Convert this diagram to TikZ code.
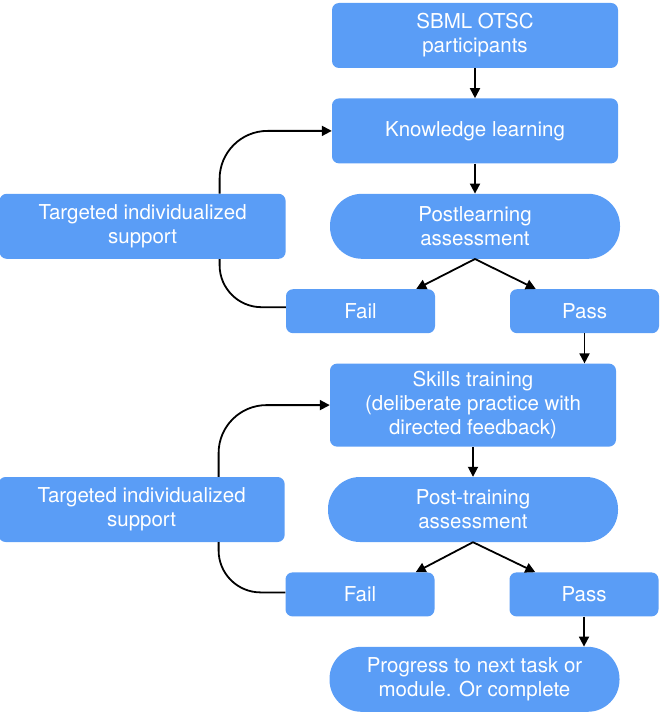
\documentclass[tikz,border=0pt]{standalone}
\usepackage{fontspec}
\setmainfont{TeX Gyre Heros}
\usepackage{tikz}
\usetikzlibrary{positioning, arrows.meta}

\definecolor{stepblue}{HTML}{5A9DF6}

\tikzset{
  box/.style={fill=stepblue, text=white, rounded corners=7pt, inner sep=0pt,
    minimum width=286pt, minimum height=65pt, align=center,
    font=\fontsize{20.5}{24}\selectfont},
  pill/.style={box, rounded corners=32pt, minimum width=290pt},
  small/.style={box, minimum width=149pt, minimum height=44pt},
  arr/.style={-{Triangle[length=10pt,width=10pt]}, line width=1.8pt},
  link/.style={line width=1.8pt}
}

\begin{document}
\begin{tikzpicture}[x=1pt, y=-1pt, node distance=30pt]
  \useasboundingbox (0,0) rectangle (664,714);
  % knowledge part
  \node[box] (sbml) at (475,35.5) {SBML OTSC\\participants};
  \node[box, below=of sbml] (know) {Knowledge learning};
  \node[pill, below=of know] (postl) {Postlearning\\assessment};
  \node[box, left=44pt of postl] (help1) {Targeted individualized\\support};
  \node[small, below=of postl, xshift=-114.5pt] (fail1) {Fail};
  \node[small, below=of postl, xshift=109.5pt] (pass1) {Pass};
  % skills part
  \node[box, minimum height=83pt, below=of pass1, xshift=-111.5pt] (skills)
    {Skills training\\(deliberate practice with\\directed feedback)};
  \node[pill, below=of skills] (postt) {Post-training\\assessment};
  \node[box, left=43pt of postt] (help2) {Targeted individualized\\support};
  \node[small, below=of postt, xshift=-113pt] (fail2) {Fail};
  \node[small, below=of postt, xshift=111pt] (pass2) {Pass};
  \node[pill, below=of pass2, xshift=-109.5pt] (prog) {Progress to next task or\\module. Or complete};

  \draw[arr] (sbml) -- (know);
  \draw[arr] (know) -- (postl);
  \draw[arr] (postl.south) -- ([xshift=-19pt]fail1.north east);
  \draw[arr] (postl.south) -- ([xshift=26pt]pass1.north west);
  \draw[arr] (pass1) -- (pass1 |- skills.north);
  \draw[arr, rounded corners=48pt] ([xshift=77pt]help1.north) |- (know.west);
  \draw[link, rounded corners=42pt] ([xshift=77pt]help1.south) |- ([yshift=4pt]fail1.west);

  \draw[arr] (skills) -- (postt);
  \draw[arr] (postt.south) -- ([xshift=-19pt]fail2.north east);
  \draw[arr] (postt.south) -- ([xshift=26pt]pass2.north west);
  \draw[arr] (pass2) -- (pass2 |- prog.north);
  \draw[arr, rounded corners=48pt] ([xshift=77pt]help2.north) |- (skills.west);
  \draw[link, rounded corners=42pt] ([xshift=77pt]help2.south) |- ([yshift=2pt]fail2.west);
\end{tikzpicture}
\end{document}
